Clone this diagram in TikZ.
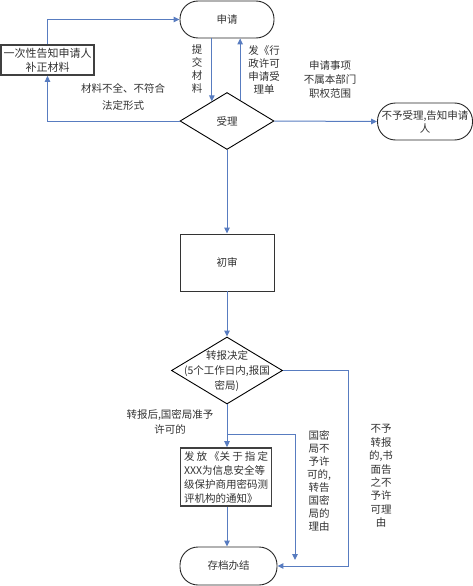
\documentclass[tikz,border=0pt]{standalone}
\usepackage{fontspec}
\setmainfont{Noto Sans CJK SC}
\usetikzlibrary{shapes.geometric,arrows.meta,calc}
\definecolor{lineblue}{RGB}{88,124,192}
\definecolor{txt}{RGB}{50,50,50}
\begin{document}
\begin{tikzpicture}[x=1pt,y=-1pt,
  font=\fontsize{10.5}{13}\selectfont, text=txt,
  flow/.style={draw=lineblue, line width=1pt, -{Triangle[length=6pt,width=5.5pt]}},
  term/.style={draw=black!85, line width=0.9pt, rectangle, rounded corners=18pt, inner sep=0pt, align=center},
  boxa/.style={draw=black!80, line width=0.9pt, rectangle, inner sep=0pt, align=center},
  boxb/.style={draw=black!75, line width=1.7pt, rectangle, inner sep=0pt, align=center},
  dia/.style={draw=black, line width=0.9pt, diamond, inner sep=0pt},
  lab/.style={inner sep=0pt, align=center}]
\useasboundingbox (0,0) rectangle (473,586);

% nodes
\node[term, minimum width=94pt, minimum height=37pt] (sq) at (227,19.5) {申请};
\node[boxb, minimum width=93pt, minimum height=30pt, font=\fontsize{11}{14}\selectfont] (bz) at (47.5,60) {一次性告知申请人\\补正材料};
\node[dia, minimum width=94pt, minimum height=57pt] (sl) at (227,121) {};
\node[lab] (slt) at (sl.center) {受理};
\node[term, minimum width=95pt, minimum height=37pt] (by) at (425,121.5) {不予受理,告知申请\\人};
\node[boxa, minimum width=94pt, minimum height=57pt] (cs) at (227,262.5) {初审};
\node[dia, minimum width=111pt, minimum height=67pt] (zb) at (227,370.5) {};
\node[lab, font=\fontsize{10.5}{15}\selectfont] (zbt) at (227,371) {转报决定\\(5个工作日内,报国\\密局)};
\node[boxb, minimum width=91pt, minimum height=58pt, align=left, text width=84pt, font=\fontsize{10.5}{14}\selectfont] (ff) at (226,477)
  {\makebox[84pt][s]{发\hfill 放\hfill 《关\hfill 于\hfill 指\hfill 定}\\XXX为信息安全等\\级保护商用密码测\\评机构的通知》};
\node[term, minimum width=97pt, minimum height=38pt] (cd) at (228.5,566) {存档办结};

% labels
\node[lab] (l1) at (197,69) {提\\交\\材\\料};
\node[lab] (l2) at (264,70) {发《行\\政许可\\申请受\\理单};
\node[lab, font=\fontsize{10.5}{14}\selectfont] (l3) at (330,80) {申请事项\\不属本部门\\职权范围};
\node[lab, font=\fontsize{10.5}{17}\selectfont] (l4) at (123,96.5) {材料不全、不符合\\法定形式};
\node[lab, font=\fontsize{10.5}{15}\selectfont] (l5) at (170,422) {转报后,国密局准予\\许可的};
\node[lab, font=\fontsize{10.5}{13}\selectfont] (l6) at (319,481) {国密\\局不\\予许\\可的,\\转告\\国密\\局的\\理由};
\node[lab, font=\fontsize{10.5}{13.4}\selectfont] (l7) at (381,476) {不予\\转报\\的,书\\面告\\之不\\予许\\可理\\由};

% helper coordinates
\coordinate (dl) at ($(sl.north)!0.32!(sl.west)$);
\coordinate (dr) at ($(sl.north)!0.277!(sl.east)$);
\coordinate (rx) at (348,0);
\coordinate (br) at (227,434);
\coordinate (mid) at (295,560);

% connectors
\draw[flow] (dl |- sq.south) -- (dl);
\draw[flow] (dr) -- (dr |- sq.south);
\draw[flow] (sl.west) -| (bz.south);
\draw[flow] (bz.north) |- (sq.west);
\draw[flow] (sl.east) -- (by.west);
\draw[flow] (sl.south) -- (cs.north);
\draw[flow] (cs.south) -- (zb.north);
\draw[flow] (zb.east) -- (zb.east -| rx) |- (cd.east);
\draw[flow] (zb.south) -- (zb.south |- ff.north);
\draw[flow] (br) -| (mid);
\draw[flow] (ff.south -| zb.south) -- (cd.north -| zb.south);
\end{tikzpicture}
\end{document}
